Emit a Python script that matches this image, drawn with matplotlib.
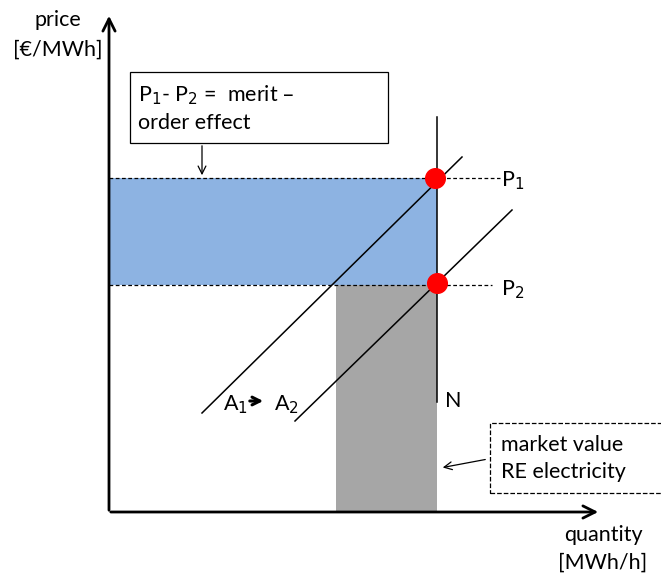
import matplotlib.pyplot as plt
from matplotlib.patches import Rectangle

plt.rcParams['font.family'] = ['Lato', 'DejaVu Sans']

# schematic values (quantity, price) in diagram units
p1 = 334
p2 = 227
n_quantity = 328
re_start = 227
supply_a1 = [(93, 99), (353, 355)]
supply_a2 = [(186, 91), (403, 302)]

fig = plt.figure(figsize=(6.61, 5.76), dpi=100)
ax = fig.add_axes([0, 0, 1, 1])
ax.set_xlim(-109, 552)
ax.set_ylim(-64, 512)
ax.axis('off')

# merit-order area (blue) and RE market value area (grey)
ax.add_patch(Rectangle((0, p2), n_quantity, p1 - p2, fc='#8db3e2', ec='none', zorder=1))
ax.add_patch(Rectangle((re_start, 0), n_quantity - re_start, p2, fc='#a6a6a6', ec='none', zorder=1))

# price levels
ax.plot([0, 391], [p1, p1], ls='--', color='black', lw=0.9, dashes=(3, 2), zorder=2)
ax.plot([0, 383], [p2, p2], ls='--', color='black', lw=0.9, dashes=(3, 2), zorder=2)

# demand N and supply curves
ax.plot([n_quantity, n_quantity], [110, 395], color='black', lw=1.1, zorder=3)
ax.plot(*zip(*supply_a1), color='black', lw=1.1, zorder=3)
ax.plot(*zip(*supply_a2), color='black', lw=1.1, zorder=3)

ax.scatter([n_quantity - 2, n_quantity], [p1, p2 + 2], s=200, color='red', zorder=5)

# axes arrows
ax.annotate('', xy=(0, 499), xytext=(0, -1),
            arrowprops=dict(arrowstyle='->', lw=2, color='black', mutation_scale=22))
ax.annotate('', xy=(492, 0), xytext=(-1, 0),
            arrowprops=dict(arrowstyle='->', lw=2, color='black', mutation_scale=22))

fs = 15.5
ax.text(-51, 492, 'price', fontsize=fs, ha='center', va='center')
ax.text(-51, 462, '[€/MWh]', fontsize=fs, ha='center', va='center')
ax.text(494, -23, 'quantity', fontsize=fs, ha='center', va='center')
ax.text(494, -51, '[MWh/h]', fontsize=fs, ha='center', va='center')

ax.text(392, 331, 'P$_1$', fontsize=fs, ha='left', va='center')
ax.text(392, 222, 'P$_2$', fontsize=fs, ha='left', va='center')
ax.text(336, 111, 'N', fontsize=fs, ha='left', va='center')
ax.text(114, 107, 'A$_1$', fontsize=fs, ha='left', va='center')
ax.annotate('', xy=(157, 111), xytext=(138, 111),
            arrowprops=dict(arrowstyle='->', lw=2.2, color='black', mutation_scale=14))
ax.text(165, 107, 'A$_2$', fontsize=fs, ha='left', va='center')

# merit-order effect box
ax.add_patch(Rectangle((21, 369), 258, 71, fc='white', ec='black', lw=0.9, zorder=4))
ax.text(29, 417, 'P$_1$- P$_2$ =  merit –', fontsize=fs, ha='left', va='center', zorder=5)
ax.text(29, 389, 'order effect', fontsize=fs, ha='left', va='center', zorder=5)
ax.annotate('', xy=(93, p1), xytext=(93, 369),
            arrowprops=dict(arrowstyle='->', lw=0.9, color='black', mutation_scale=14))

# market value box
ax.add_patch(Rectangle((381, 19), 200, 70, fc='white', ec='black', lw=0.9, ls='--', zorder=4))
ax.text(392, 67, 'market value', fontsize=fs, ha='left', va='center', zorder=5)
ax.text(392, 40, 'RE electricity', fontsize=fs, ha='left', va='center', zorder=5)
ax.annotate('', xy=(331, 44), xytext=(379, 53),
            arrowprops=dict(arrowstyle='->', lw=0.9, color='black', mutation_scale=14))

fig.savefig('out.png', dpi=100)
